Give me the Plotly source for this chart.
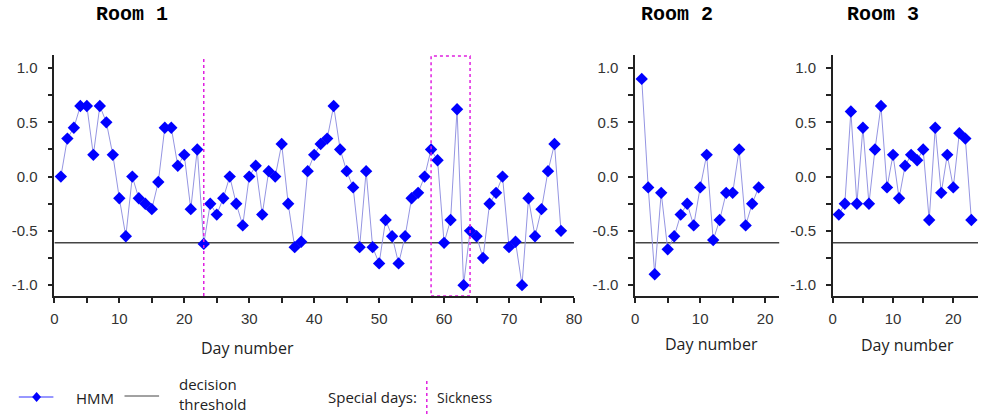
import plotly.graph_objects as go

# ---------------- data ----------------
room1_days = list(range(1, 79))
room1_hmm = [0.0, 0.35, 0.45, 0.65, 0.65, 0.2, 0.65, 0.5, 0.2, -0.2,
             -0.55, 0.0, -0.2, -0.25, -0.3, -0.05, 0.45, 0.45, 0.1, 0.2,
             -0.3, 0.25, -0.62, -0.25, -0.35, -0.2, 0.0, -0.25, -0.45, 0.0,
             0.1, -0.35, 0.05, 0.0, 0.3, -0.25, -0.65, -0.6, 0.05, 0.2,
             0.3, 0.35, 0.65, 0.25, 0.05, -0.1, -0.65, 0.05, -0.65, -0.8,
             -0.4, -0.55, -0.8, -0.55, -0.2, -0.15, 0.0, 0.25, 0.15, -0.61,
             -0.4, 0.62, -1.0, -0.5, -0.55, -0.75, -0.25, -0.15, 0.0, -0.65,
             -0.6, -1.0, -0.2, -0.55, -0.3, 0.05, 0.3, -0.5]

room2_days = list(range(1, 20))
room2_hmm = [0.9, -0.1, -0.9, -0.15, -0.67, -0.55, -0.35, -0.25, -0.45, -0.1,
             0.2, -0.585, -0.4, -0.15, -0.15, 0.25, -0.45, -0.25, -0.1]

room3_days = list(range(1, 24))
room3_hmm = [-0.35, -0.25, 0.6, -0.25, 0.45, -0.25, 0.25, 0.65, -0.1, 0.2,
             -0.2, 0.1, 0.2, 0.15, 0.25, -0.4, 0.45, -0.15, 0.2, -0.1,
             0.4, 0.35, -0.4]

room_titles = ["Room 1", "Room 2", "Room 3"]
x_ranges = [[0, 80], [0, 22.2], [0, 24.1]]
decision_threshold = -0.61
sickness_single_days = [23]          # room 1
sickness_spans = [(58, 64)]          # room 1

y_tickvals = [1.0, 0.5, 0.0, -0.5, -1.0]
y_ticktext = ["1.0", "0.5", "0.0", "-0.5", "-1.0"]

# ---------------- layout geometry (pixel-based) ----------------
W, H = 986, 417
def px(x):
    return x / W
def py(y):
    return (H - y) / H

x_domains = [[px(51), px(577)], [px(639), px(785)], [px(839), 1.0]]
y_domain = [py(296), py(55)]
y_range = [-1.1, 1.12]

HMM_MARK = "#0000ff"
HMM_LINE = "#9595e2"
THR = "#444444"
SICK = "#e020e0"
TICKFONT = dict(family="Liberation Sans, Arial, sans-serif", size=15, color="#333333")
TEXTFONT = dict(family="Open Sans, Noto Sans, sans-serif", size=16, color="#222222")

fig = go.Figure()

rooms = [(room1_days, room1_hmm), (room2_days, room2_hmm), (room3_days, room3_hmm)]
for i, (days, vals) in enumerate(rooms):
    xa = "x" if i == 0 else f"x{i+1}"
    ya = "y" if i == 0 else f"y{i+1}"
    # threshold line across the panel
    fig.add_trace(go.Scatter(
        x=x_ranges[i], y=[decision_threshold, decision_threshold],
        mode="lines", line=dict(color=THR, width=1.5),
        xaxis=xa, yaxis=ya, showlegend=False, hoverinfo="skip"))
    fig.add_trace(go.Scatter(
        x=days, y=vals, mode="lines+markers",
        line=dict(color=HMM_LINE, width=1),
        marker=dict(symbol="diamond", size=9.5, color=HMM_MARK),
        xaxis=xa, yaxis=ya, showlegend=False, cliponaxis=False))

axis_common = dict(
    showgrid=False, zeroline=False, showline=True, linecolor="#222222",
    linewidth=1.5, ticks="outside", ticklen=5, tickwidth=1.5,
    tickcolor="#222222", tickfont=TICKFONT,
)

layout = dict(
    width=W, height=H, margin=dict(l=0, r=0, t=0, b=0),
    paper_bgcolor="white", plot_bgcolor="white", showlegend=False,
)
for i in range(3):
    xk = "xaxis" if i == 0 else f"xaxis{i+1}"
    yk = "yaxis" if i == 0 else f"yaxis{i+1}"
    yname = "y" if i == 0 else f"y{i+1}"
    xname = "x" if i == 0 else f"x{i+1}"
    layout[xk] = dict(axis_common, domain=x_domains[i], range=x_ranges[i],
                      anchor=yname, tickmode="linear", tick0=0, dtick=10,
                      ticklabelstandoff=3,
                      minor=dict(ticks="outside", ticklen=5, tickwidth=1.5,
                                 tickcolor="#222222", dtick=5, tick0=0, showgrid=False))
    layout[yk] = dict(axis_common, domain=y_domain, range=y_range,
                      anchor=xname, tickmode="array", tickvals=y_tickvals,
                      ticktext=y_ticktext, ticklabelstandoff=7,
                      minor=dict(ticks="outside", ticklen=5, tickwidth=1.5,
                                 tickcolor="#222222",
                                 tickvals=[0.75, 0.25, -0.25, -0.75], showgrid=False))
fig.update_layout(**layout)

# sickness markers (room 1)
for d in sickness_single_days:
    fig.add_shape(type="line", xref="x", yref="y", x0=d, x1=d,
                  y0=y_range[0], y1=y_range[1] - 0.01,
                  line=dict(color=SICK, width=1.5, dash="dot"))
for a, b in sickness_spans:
    fig.add_shape(type="rect", xref="x", yref="y", x0=a, x1=b,
                  y0=y_range[0], y1=y_range[1] - 0.01,
                  line=dict(color=SICK, width=1.5, dash="dot"))

# titles
title_font = dict(family="Liberation Mono, Courier New, monospace", size=20, color="black")
for t, cx in zip(room_titles, [130, 681, 890]):
    fig.add_annotation(text=f"<b>{t}</b>", x=px(cx), y=py(14), xref="paper", yref="paper",
                       showarrow=False, font=title_font, xanchor="center", yanchor="middle")

# x axis titles
for cx, cy in [(247, 348), (716, 344), (915, 345)]:
    fig.add_annotation(text="Day number", x=px(cx), y=py(cy), xref="paper", yref="paper",
                       showarrow=False, font=TEXTFONT, xanchor="center", yanchor="middle")

# ---------------- legend (drawn manually) ----------------
fig.add_shape(type="line", xref="paper", yref="paper", x0=px(15), x1=px(50),
              y0=py(397), y1=py(397), line=dict(color="#3030ff", width=1))
fig.add_shape(type="path", xref="paper", yref="paper",
              path=f"M {px(33)} {py(392)} L {px(37.5)} {py(397)} L {px(33)} {py(402)} L {px(28.5)} {py(397)} Z",
              fillcolor=HMM_MARK, line=dict(color=HMM_MARK, width=0))
fig.add_annotation(text="HMM", x=px(71), y=py(398), xref="paper", yref="paper",
                   showarrow=False, font=dict(TEXTFONT, size=15), xanchor="left", yanchor="middle")
fig.add_shape(type="line", xref="paper", yref="paper", x0=px(122), x1=px(157),
              y0=py(396), y1=py(396), line=dict(color=THR, width=1))
fig.add_annotation(text="decision<br>threshold", x=px(175), y=py(394), xref="paper", yref="paper",
                   showarrow=False, font=dict(TEXTFONT, size=15), xanchor="left", yanchor="middle",
                   align="left")
fig.add_annotation(text="Special days:", x=px(326), y=py(397), xref="paper", yref="paper",
                   showarrow=False, font=dict(TEXTFONT, size=15), xanchor="left", yanchor="middle")
fig.add_shape(type="line", xref="paper", yref="paper", x0=px(428), x1=px(428),
              y0=py(381), y1=py(417), line=dict(color=SICK, width=1.5, dash="dot"))
fig.add_annotation(text="Sickness", x=px(436), y=py(397), xref="paper", yref="paper",
                   showarrow=False, font=dict(TEXTFONT, size=14), xanchor="left", yanchor="middle")

fig.write_html("out.html")
